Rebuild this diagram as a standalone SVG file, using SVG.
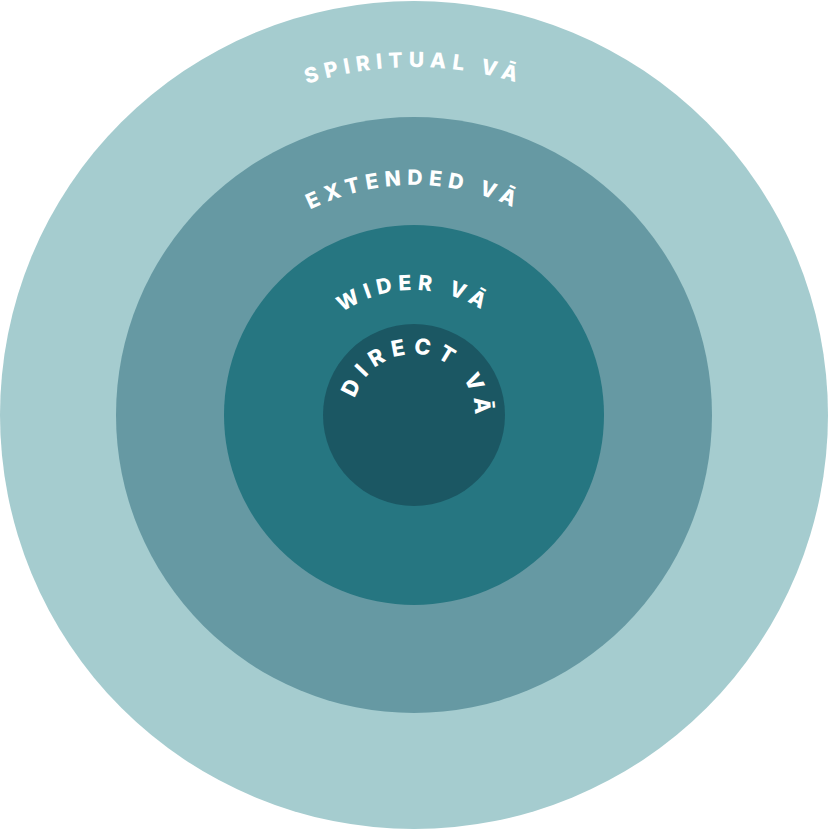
<svg xmlns="http://www.w3.org/2000/svg" width="829" height="830" viewBox="0 0 829 830">
<style>
.t{font-family:"Inter","Open Sans",sans-serif;font-weight:800;fill:#fff;letter-spacing:6px;font-size:21px}
</style>
<defs>
<path id="p1" d="M 66,415 A 348 348 0 0 1 762,415"/>
<path id="p2" d="M 184,415 A 230 230 0 0 1 644,415"/>
<path id="p3" d="M 289,415 A 125 125 0 0 1 539,415"/>
<path id="p4" d="M 414,476 A 61 61 0 1 1 414,354 A 61 61 0 1 1 414,476"/>
</defs>
<g id="spiritual"><circle cx="414" cy="415" r="414" fill="#a5cccf"/><text class="t"><textPath href="#p1" startOffset="50%" text-anchor="middle">SPIRITUAL VĀ</textPath></text></g>
<g id="extended"><circle cx="414" cy="415" r="298" fill="#6699a3"/><text class="t"><textPath href="#p2" startOffset="50%" text-anchor="middle">EXTENDED VĀ</textPath></text></g>
<g id="wider"><circle cx="414" cy="415" r="190" fill="#267681"/><text class="t"><textPath href="#p3" startOffset="50%" text-anchor="middle">WIDER VĀ</textPath></text></g>
<g id="direct"><circle cx="414" cy="415" r="91" fill="#1b5763"/><text class="t" style="font-size:22px;letter-spacing:7px"><textPath href="#p4" startOffset="53%" text-anchor="middle">DIRECT VĀ</textPath></text></g>
<g id="connectors"/>
</svg>
